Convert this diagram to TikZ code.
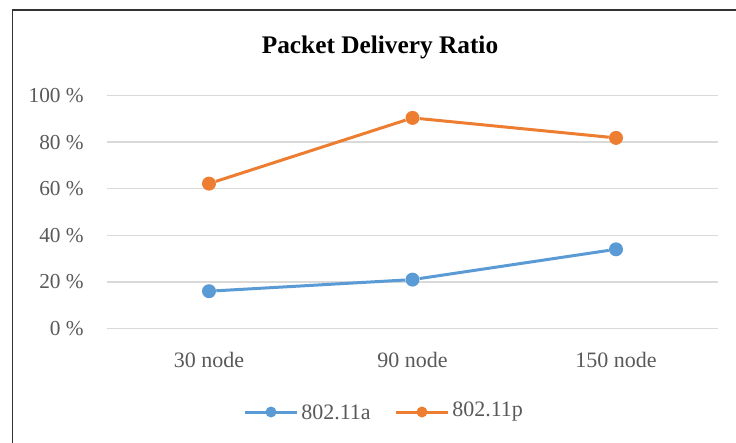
\documentclass[tikz,border=0pt]{standalone}
\usepackage{fontspec}
\setmainfont{Liberation Serif}
\definecolor{serA}{HTML}{5B9BD5}
\definecolor{serP}{HTML}{ED7D31}
\definecolor{gridc}{HTML}{D9D9D9}
\definecolor{txt}{HTML}{595959}
\tikzset{
  frame/.style={line width=1.2pt, draw=black!80},
  gridline/.style={draw=gridc, line width=1pt},
  ticklab/.style={text=txt, font=\fontsize{16}{19}\selectfont, inner sep=0pt},
  catlab/.style={text=txt, font=\fontsize{16.5}{19}\selectfont, inner sep=0pt},
  serline/.style={line width=2.25pt},
  bigmark/.style={circle, inner sep=0pt, minimum size=10.5pt},
  smallmark/.style={circle, inner sep=0pt, minimum size=8.25pt},
}
\begin{document}
\begin{tikzpicture}[x=0.75pt,y=-0.75pt]
\useasboundingbox (0,0) rectangle (736,443);
% frame
\coordinate (fbl) at (12.5,443);
\coordinate (ftl) at (12.5,10);
\coordinate (ftr) at (736,10);
\draw[frame] (fbl) -- (ftl) -- (ftr);
% title
\node[text=black, font=\fontsize{19}{22}\bfseries] (title) at (380,47) {Packet Delivery Ratio};
% gridlines and tick labels
\foreach \v/\y in {0/328.5,20/281.9,40/235.3,60/188.7,80/142.1,100/95.5}{
  \coordinate (gl\v) at (107,\y);
  \coordinate (gr\v) at (718,\y);
  \draw[gridline] (gl\v) -- (gr\v);
  \node[ticklab, anchor=east] (tick\v) at (84,\y) {\v\ \%};
}
% category labels
\node[catlab] (c30) at (209,360) {30 node};
\node[catlab] (c90) at (412.5,360) {90 node};
\node[catlab] (c150) at (616,360) {150 node};
% series 802.11a
\node[bigmark, fill=serA] (a1) at (209,291.2) {};
\node[bigmark, fill=serA] (a2) at (412.5,279.6) {};
\node[bigmark, fill=serA] (a3) at (616,249.3) {};
\draw[serline, draw=serA] (a1) -- (a2) -- (a3);
% series 802.11p
\node[bigmark, fill=serP] (p1) at (209,183.6) {};
\node[bigmark, fill=serP] (p2) at (412.5,117.9) {};
\node[bigmark, fill=serP] (p3) at (616,137.9) {};
\draw[serline, draw=serP] (p1) -- (p2) -- (p3);
% legend
\coordinate (la1) at (245,412);
\coordinate (la2) at (297,412);
\draw[serline, draw=serA] (la1) -- (la2);
\node[smallmark, fill=serA] (lam) at (271,412) {};
\node[catlab, anchor=west] (lat) at (301,412) {802.11a};
\coordinate (lp1) at (396,412);
\coordinate (lp2) at (448,412);
\draw[serline, draw=serP] (lp1) -- (lp2);
\node[smallmark, fill=serP] (lpm) at (422,412) {};
\node[catlab, anchor=west] (lpt) at (452,412) {802.11p};
\end{tikzpicture}
\end{document}
